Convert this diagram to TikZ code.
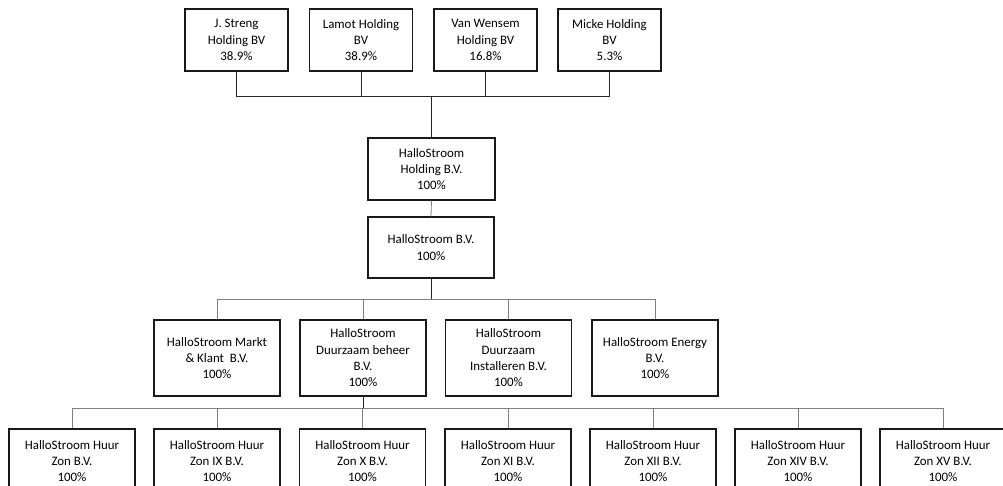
\documentclass[tikz,border=0pt]{standalone}
\usepackage{fontspec}
\setmainfont{Carlito}
\begin{document}
\begin{tikzpicture}[x=1pt,y=-1pt,
  box/.style={draw=black!90,line width=1.2pt,align=center,inner sep=0pt,
    font=\fontsize{12.9}{16.3}\selectfont},
  topbox/.style={box,minimum width=103pt,minimum height=62pt},
  midbox/.style={box,minimum width=126pt,minimum height=76pt},
  botbox/.style={box,minimum width=126pt,minimum height=64pt},
  conn/.style={draw=black!85,line width=0.8pt},
  gconn/.style={draw=black!50,line width=0.8pt}]
\useasboundingbox (0,0) rectangle (1003,486);
\clip (0,0) rectangle (1003,486);
% top row
\node[topbox] (t1) at (236.5,40) {J. Streng\\Holding BV\\38.9\%};
\node[topbox] (t2) at (361,40) {Lamot Holding\\BV\\38.9\%};
\node[topbox] (t3) at (485.5,40) {Van Wensem\\Holding BV\\16.8\%};
\node[topbox] (t4) at (609.5,40) {Micke Holding\\BV\\5.3\%};
\node[box,minimum width=127pt,minimum height=62pt] (hold) at (431.5,169) {HalloStroom\\Holding B.V.\\100\%};
\node[box,minimum width=126pt,minimum height=61pt] (bv) at (431,247.5) {HalloStroom B.V.\\100\%};
% middle row
\node[midbox] (m1) at (217,358) {HalloStroom Markt\\\& Klant\ \ B.V.\\100\%};
\node[midbox] (m2) at (363,358) {HalloStroom\\Duurzaam beheer\\B.V.\\100\%};
\node[midbox] (m3) at (508.5,358) {HalloStroom\\Duurzaam\\Installeren B.V.\\100\%};
\node[midbox] (m4) at (655,358) {HalloStroom Energy\\B.V.\\100\%};
% bottom row
\node[botbox] (b1) at (72,461) {HalloStroom Huur\\Zon B.V.\\100\%};
\node[botbox] (b2) at (217,461) {HalloStroom Huur\\Zon IX B.V.\\100\%};
\node[botbox] (b3) at (362.5,461) {HalloStroom Huur\\Zon X B.V.\\100\%};
\node[botbox] (b4) at (508,461) {HalloStroom Huur\\Zon XI B.V.\\100\%};
\node[botbox] (b5) at (653,461) {HalloStroom Huur\\Zon XII B.V.\\100\%};
\node[botbox] (b6) at (798,461) {HalloStroom Huur\\Zon XIV B.V.\\100\%};
\node[botbox] (b7) at (943,461) {HalloStroom Huur\\Zon XV B.V.\\100\%};
% connectors
\coordinate (bus1) at (431.5,96);
\coordinate (bus2) at (431,299);
\coordinate (bus3) at (363,408);
\foreach \n in {t1,t2,t3,t4} \draw[conn] (\n.south) |- (bus1);
\draw[conn] (bus1) -- (hold.north);
\draw[gconn] (hold.south) -- (bv.north);
\draw[conn] (bv.south) -- (bus2);
\foreach \n in {m1,m2,m3,m4} \draw[gconn] (\n.north) |- (bus2);
\draw[conn] (m2.south) -- (bus3);
\foreach \n in {b1,b2,b3,b4,b5,b6,b7} \draw[gconn] (\n.north) |- (bus3);
\end{tikzpicture}
\end{document}
